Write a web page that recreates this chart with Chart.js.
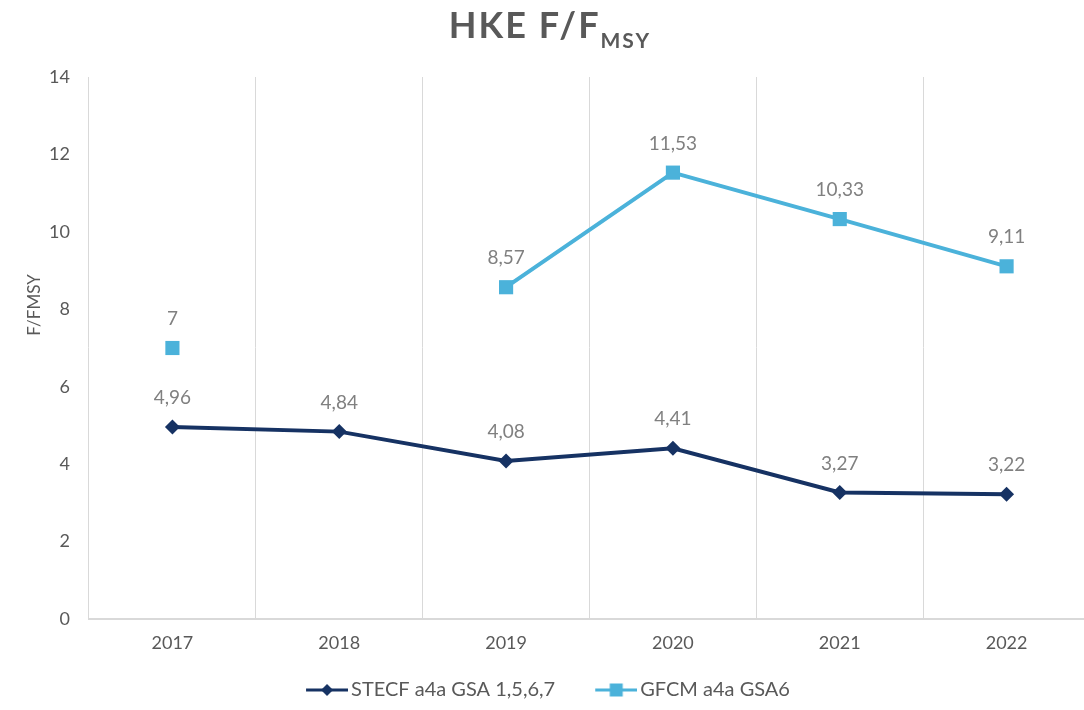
<!DOCTYPE html>
<html>
<head>
<meta charset="utf-8">
<script src="https://cdn.jsdelivr.net/npm/chart.js@4"></script>
<style>
  html, body { margin: 0; padding: 0; background: #fff; overflow: hidden; }
  #wrap { width: 1100px; height: 710px; }
</style>
</head>
<body>
<div id="wrap"><canvas id="myChart" width="1100" height="710"></canvas></div>
<script>
const years = ['2017', '2018', '2019', '2020', '2021', '2022'];
const stecfData = [4.96, 4.84, 4.08, 4.41, 3.27, 3.22];
const gfcmData = [7, null, 8.57, 11.53, 10.33, 9.11];
const yTicks = [0, 2, 4, 6, 8, 10, 12, 14];

const navy = '#163263';
const lightBlue = '#4bb2da';
const textGray = '#595959';
const fontFamily = 'Lato, "Open Sans", sans-serif';

// line + marker pictures for the legend (line sits at the right end of the picture)
function legendIcon(color, shape) {
    const c = document.createElement('canvas');
    c.width = 69;
    c.height = 20;
    const g = c.getContext('2d');
    g.strokeStyle = color;
    g.fillStyle = color;
    g.lineWidth = 3;
    g.beginPath();
    g.moveTo(27, 10);
    g.lineTo(69, 10);
    g.stroke();
    g.beginPath();
    if (shape === 'diamond') {
        g.moveTo(48, 4); g.lineTo(54, 10); g.lineTo(48, 16); g.lineTo(42, 10);
        g.closePath();
    } else {
        g.rect(41.5, 3.5, 13, 13);
    }
    g.fill();
    return c;
}
const icons = [legendIcon(navy, 'diamond'), legendIcon(lightBlue, 'square')];

const fmt = v => String(v).replace('.', ',');

const extrasPlugin = {
    id: 'extras',
    afterDatasetsDraw(chart) {
        const ctx = chart.ctx;
        ctx.save();
        ctx.font = '19px ' + fontFamily;
        ctx.fillStyle = '#808080';
        ctx.textAlign = 'center';
        ctx.textBaseline = 'middle';
        chart.data.datasets.forEach((ds, i) => {
            const meta = chart.getDatasetMeta(i);
            meta.data.forEach((pt, j) => {
                if (ds.data[j] === null) return;
                ctx.fillText(fmt(ds.data[j]), pt.x, pt.y - 29);
            });
        });
        ctx.restore();
    },
    afterDraw(chart) {
        const ctx = chart.ctx;
        ctx.save();
        // title with subscript
        ctx.fillStyle = textGray;
        ctx.letterSpacing = '2px';
        ctx.textBaseline = 'alphabetic';
        ctx.textAlign = 'left';
        ctx.font = 'bold 36px ' + fontFamily;
        const main = 'HKE F/F';
        const wMain = ctx.measureText(main).width;
        ctx.font = 'bold 21px ' + fontFamily;
        const wSub = ctx.measureText('MSY').width;
        const x0 = 550 - (wMain + wSub) / 2;
        ctx.font = 'bold 36px ' + fontFamily;
        ctx.fillText(main, x0, 38);
        ctx.font = 'bold 21px ' + fontFamily;
        ctx.fillText('MSY', x0 + wMain, 48);
        // y axis title
        ctx.letterSpacing = '0px';
        ctx.font = '17px ' + fontFamily;
        ctx.textAlign = 'center';
        ctx.textBaseline = 'middle';
        ctx.translate(35, 305);
        ctx.rotate(-Math.PI / 2);
        ctx.fillText('F/FMSY', 0, 0);
        ctx.restore();
    }
};

const config = {
    type: 'line',
    data: {
        labels: years,
        datasets: [
            {
                label: 'STECF a4a GSA 1,5,6,7',
                data: stecfData,
                borderColor: navy,
                backgroundColor: navy,
                borderWidth: 4,
                pointStyle: 'rectRot',
                pointRadius: 7.5,
                pointHoverRadius: 7.5,
                pointBorderWidth: 0,
                tension: 0
            },
            {
                label: 'GFCM a4a GSA6',
                data: gfcmData,
                borderColor: lightBlue,
                backgroundColor: lightBlue,
                borderWidth: 4,
                pointStyle: 'rect',
                pointRadius: 10,
                pointHoverRadius: 10,
                pointBorderWidth: 0,
                spanGaps: false,
                tension: 0
            }
        ]
    },
    options: {
        responsive: false,
        animation: false,
        layout: {
            // negative left padding only pulls the legend to the left
            padding: { top: 77, right: 6, left: -18, bottom: 0 }
        },
        plugins: {
            title: { display: false },
            tooltip: { enabled: false },
            legend: {
                position: 'bottom',
                labels: {
                    usePointStyle: true,
                    pointStyleWidth: 55,
                    padding: 20,
                    color: textGray,
                    font: { family: fontFamily, size: 20 },
                    generateLabels(chart) {
                        const items = Chart.defaults.plugins.legend.labels.generateLabels(chart);
                        items.forEach((it, i) => { it.pointStyle = icons[i]; });
                        return items;
                    }
                }
            }
        },
        scales: {
            x: {
                offset: true,
                grid: {
                    offset: true,
                    color: '#d9d9d9',
                    lineWidth: 1,
                    drawTicks: false
                },
                border: { display: true, color: '#d9d9d9', width: 2 },
                ticks: {
                    color: textGray,
                    padding: 13,
                    font: { family: fontFamily, size: 18 }
                },
                afterFit(scale) { scale.height = 41; }
            },
            y: {
                min: 0,
                max: 14,
                afterBuildTicks(scale) { scale.ticks = yTicks.map(v => ({ value: v })); },
                grid: { display: false, drawTicks: false },
                border: { display: false },
                ticks: {
                    color: textGray,
                    padding: 19,
                    font: { family: fontFamily, size: 18 }
                },
                afterFit(scale) { scale.width = 107; }
            }
        }
    },
    plugins: [extrasPlugin]
};

const myChart = new Chart(document.getElementById('myChart'), config);
</script>
</body>
</html>
